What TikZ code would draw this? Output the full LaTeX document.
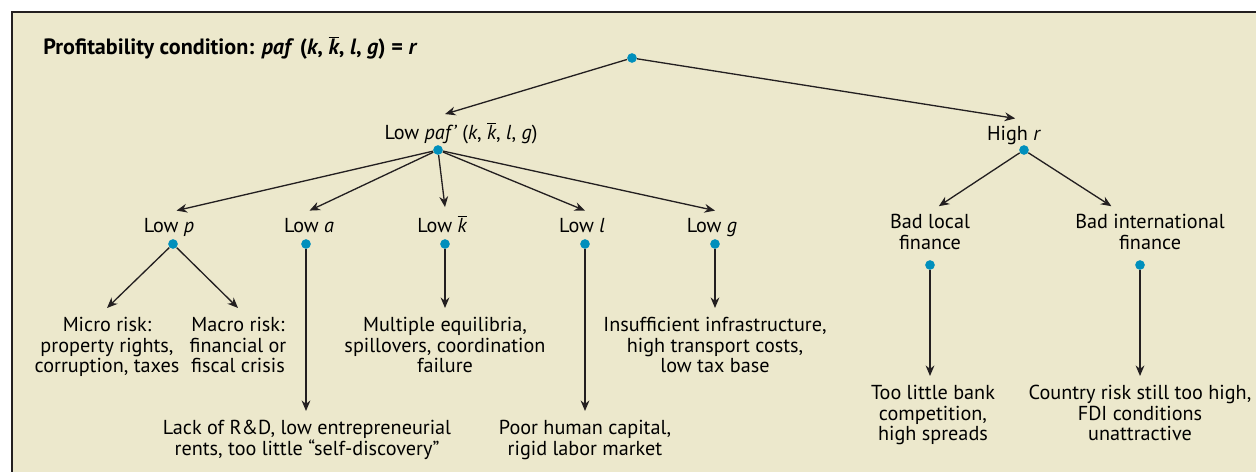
\documentclass[tikz,border=0pt]{standalone}
\usepackage{fontspec}
\setmainfont{PT Sans}
\usepackage{tikz}
\usetikzlibrary{arrows.meta, positioning, calc}
\definecolor{mydark}{RGB}{35,31,32}
\definecolor{mycream}{RGB}{236,232,204}
\definecolor{mydot}{RGB}{0,143,188}
\newcommand{\kbr}{$\overline{\mbox{\itshape k}}$}
\tikzset{
  lbl/.style={font=\fontsize{11.5}{12}\selectfont, inner xsep=1pt, inner ysep=4.5pt, anchor=base},
  twolbl/.style={font=\fontsize{11.5}{11.8}\selectfont, align=center, inner xsep=1pt, inner ysep=4.5pt},
  leaf/.style={font=\fontsize{11.5}{11.8}\selectfont, align=center, anchor=north,
    inner xsep=1pt, inner ysep=5pt},
  jdot/.style={circle, fill=mydot, inner sep=0pt, minimum size=5.5pt},
  arrow/.style={-{Stealth[length=6pt, width=5pt]}, line width=0.75pt, color=mydark},
  line/.style={line width=0.75pt, color=mydark}
}

\begin{document}
\begin{tikzpicture}[x=0.02cm, y=-0.02cm]
  % Frame
  \useasboundingbox (0,0) rectangle (1256,472);
  \fill[mycream] (12,12) rectangle (1256,472);
  \draw[mydark, line width=1.2pt] (1256,12) -- (12,12) -- (12,472);

  % Title
  \node[anchor=base west, inner sep=0pt, font=\bfseries\fontsize{12.6}{15}\selectfont] (title) at (43,55)
    {Profitability condition: \textit{paf} (\textit{k}, \kbr, \textit{l}, \textit{g}) = \textit{r}};

  % Place dots
  \node[jdot] (root) at (632,58) {};
  \node[jdot] (pafdot) at (438,150) {};
  \node[jdot] (hrdot) at (1024,150) {};
  \node[jdot] (pdot) at (173,244) {};
  \node[jdot] (adot) at (306,244) {};
  \node[jdot] (kdot) at (445,244) {};
  \node[jdot] (ldot) at (585,244) {};
  \node[jdot] (gdot) at (715,244) {};
  \node[jdot] (bldot) at (930,265) {};
  \node[jdot] (bidot) at (1140,265) {};

  % Place labels
  \node[lbl] (lpaf) at (461,140) {Low \textit{paf'} (\textit{k}, \kbr, \textit{l}, \textit{g})};
  \node[lbl] (hr) at (1014,141) {High \textit{r}};
  \node[lbl] (lp) at (169,233) {Low \textit{p}};
  \node[lbl] (la) at (309,233) {Low \textit{a}};
  \node[lbl] (lk) at (442,233) {Low \kbr};
  \node[lbl] (ll) at (582,233) {Low \textit{l}};
  \node[lbl] (lg) at (712,233) {Low \textit{g}};
  \node[twolbl, anchor=south] (blocal) at (930,258) {Bad local\\finance};
  \node[twolbl, anchor=south] (bint) at (1150,258) {Bad international\\finance};

  % Place leaves
  \node[leaf] (micro) at (107,308) {Micro risk:\\property rights,\\corruption, taxes};
  \node[leaf] (macro) at (238,308) {Macro risk:\\financial or\\fiscal crisis};
  \node[leaf] (lack) at (307,411) {Lack of R\&D, low entrepreneurial\\rents, too little “self-discovery”};
  \node[leaf] (multi) at (445,308) {Multiple equilibria,\\spillovers, coordination\\failure};
  \node[leaf] (poor) at (585,411) {Poor human capital,\\rigid labor market};
  \node[leaf] (insuf) at (715,308) {Insufficient infrastructure,\\high transport costs,\\low tax base};
  \node[leaf] (bank) at (933,376) {Too little bank\\competition,\\high spreads};
  \node[leaf] (ctry) at (1140,376) {Country risk still too high,\\FDI conditions\\unattractive};

  % Draw top arrows
  \draw[arrow] (root) -- ([xshift=4pt]lpaf.north -| pafdot);
  \draw[arrow] (root) -- ([xshift=-5pt]hr.north -| hrdot);
  \draw[arrow] (pafdot) -- ([xshift=2pt]lp.north -| pdot);
  \draw[arrow] (pafdot) -- ([xshift=2pt]la.north -| adot);
  \draw[arrow] (pafdot) -- (lk.north -| kdot);
  \draw[arrow] (pafdot) -- (ll.north -| ldot);
  \draw[arrow] (pafdot) -- (lg.north -| gdot);
  \draw[arrow] (hrdot) -- ([xshift=5pt]blocal.north);
  \draw[arrow] (hrdot) -- ([xshift=-22pt]bint.north);

  % Draw leaf arrows
  \draw[arrow] (pdot) -- (micro.north);
  \draw[arrow] (pdot) -- (macro.north);
  \draw[arrow] (adot) -- (lack.north -| adot);
  \draw[arrow] (kdot) -- (multi.north);
  \draw[arrow] (ldot) -- (poor.north);
  \draw[arrow] (gdot) -- (insuf.north);
  \draw[arrow] (bldot) -- (bank.north -| bldot);
  \draw[arrow] (bidot) -- (ctry.north);
\end{tikzpicture}
\end{document}
